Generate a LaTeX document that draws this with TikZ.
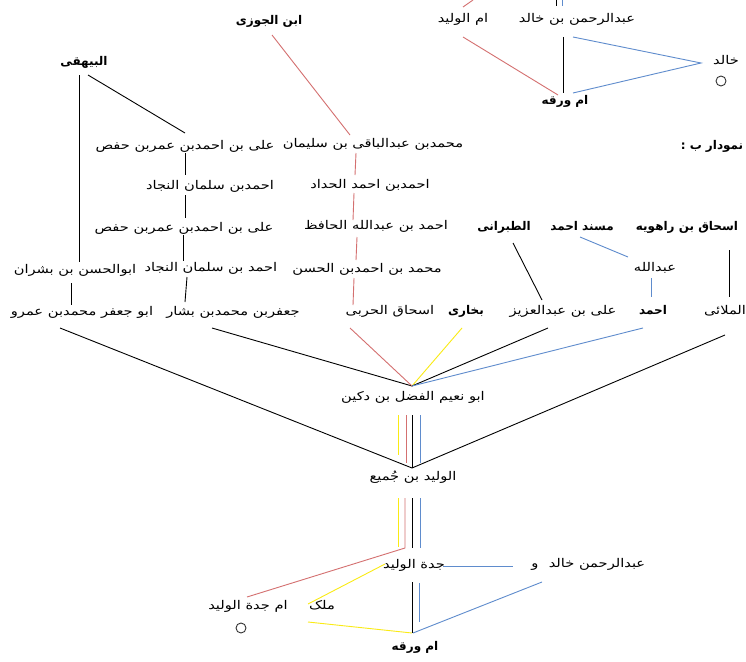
\documentclass[tikz,border=0pt]{standalone}
\usepackage{fontspec}
\TeXXeTstate=1
\newfontfamily\arabicfont[Script=Arabic,FakeStretch=1.22]{DejaVu Sans}
\newfontfamily\arabicboldfont[Script=Arabic,FakeStretch=1.0]{DejaVu Sans Bold}
\newcommand{\rtltext}[1]{\beginR #1\endR}
\usetikzlibrary{calc}
\definecolor{linkred}{RGB}{212,112,112}
\definecolor{linkblue}{RGB}{95,140,205}
\definecolor{linkyellow}{RGB}{250,235,20}
\tikzset{
  lbl/.style={font=\arabicfont\fontsize{12}{13}\selectfont, inner sep=0pt, text height=8pt, text depth=3pt, anchor=center},
  blbl/.style={lbl, font=\arabicboldfont\fontsize{12}{13}\selectfont},
  ringmark/.style={circle, draw=black!80, line width=0.9pt, minimum size=10pt, inner sep=0pt},
  kblack/.style={draw=black, line width=0.9pt},
  kred/.style={draw=linkred, line width=0.9pt},
  kblue/.style={draw=linkblue, line width=0.9pt},
  kyellow/.style={draw=linkyellow, line width=0.9pt},
}
\begin{document}
\begin{tikzpicture}[x=1pt,y=-1pt]
\useasboundingbox[fill=white] (0,0) rectangle (746,661);

% ---------- top part ----------
\node[blbl] (jawzi) at (269,22) {\rtltext{ابن الجوزی}};
\node[lbl] (umwalid) at (463,20) {\rtltext{ام الولید}};
\node[lbl] (abdkh) at (577,20) {\rtltext{عبدالرحمن بن خالد}};
\node[lbl] (khalid) at (726,62) {\rtltext{خالد}};
\node[ringmark] (ring1) at (721,81) {};
\node[blbl] (umw1) at (565,102) {\rtltext{ام ورقه}};
\node[blbl] (bayhaqi) at (84,63) {\rtltext{البیهقی}};
\node[blbl] (tag) at (712,147) {\rtltext{نمودار ب :}};
\coordinate (topred) at (473,0);
\coordinate (topblack) at (556,0);
\coordinate (topblue) at (562,0);

% ---------- chains ----------
\node[lbl] (r1a) at (185,147) {\rtltext{على بن احمدبن عمربن حفص}};
\node[lbl] (r1b) at (373,145) {\rtltext{محمدبن عبدالباقی بن سلیمان}};
\node[lbl] (r2a) at (210,187) {\rtltext{احمدبن سلمان النجاد}};
\node[lbl] (r2b) at (370,186) {\rtltext{احمدبن احمد الحداد}};
\node[lbl] (r3a) at (184,229) {\rtltext{على بن احمدبن عمربن حفص}};
\node[lbl] (r3b) at (376,227) {\rtltext{احمد بن عبدالله الحافظ}};
\node[lbl] (r4a) at (75,271) {\rtltext{ابوالحسن بن بشران}};
\node[lbl] (r4b) at (211,269) {\rtltext{احمد بن سلمان النجاد}};
\node[lbl] (r4c) at (367,270) {\rtltext{محمد بن احمدبن الحسن}};
\node[lbl] (r5a) at (82,313) {\rtltext{ابو جعفر محمدبن عمرو}};
\node[lbl] (r5b) at (233,313) {\rtltext{جعفربن محمدبن بشار}};
\node[lbl] (r5c) at (390,312) {\rtltext{اسحاق الحربی}};
\node[blbl] (r5d) at (466,312) {\rtltext{بخاری}};
\node[lbl] (r5e) at (563,312) {\rtltext{على بن عبدالعزیز}};
\node[blbl] (r5f) at (653,312) {\rtltext{احمد}};
\node[lbl] (r5g) at (725,312) {\rtltext{الملائی}};
\node[blbl] (t1) at (504,228) {\rtltext{الطبرانی}};
\node[blbl] (t2) at (582,228) {\rtltext{مسند احمد}};
\node[blbl] (t3) at (687,228) {\rtltext{اسحاق بن راهویه}};
\node[lbl] (abd) at (655,269) {\rtltext{عبدالله}};

\node[lbl] (naim) at (413,398) {\rtltext{ابو نعیم الفضل بن دکین}};
\node[lbl] (walid) at (413,478) {\rtltext{الولید بن جُمیع}};

% ---------- bottom part ----------
\node[lbl] (jadda) at (414,566) {\rtltext{جدة الولید}};
\node[lbl] (waw) at (535,565) {\rtltext{و}};
\node[lbl] (abdkh2) at (597,565) {\rtltext{عبدالرحمن خالد}};
\node[lbl] (malik) at (322,607) {\rtltext{ملک}};
\node[lbl] (ummjadda) at (248,607) {\rtltext{ام جدة الولید}};
\node[ringmark] (ring2) at (241,628) {};
\node[blbl] (umw2) at (415,648) {\rtltext{ام ورقه}};

% ---------- connectors: top ----------
\draw[kred] ([shift={(3,13)}]jawzi.center) -- ([shift={(-23,-10)}]r1b.center);
\draw[kred] ([shift={(0,-13)}]umwalid.center) -- (topred);
\draw[kblack] ([shift={(-21,-14)}]abdkh.center) -- (topblack);
\draw[kblue] ([shift={(-15,-14)}]abdkh.center) -- (topblue);
\draw[kred] ([shift={(0,17)}]umwalid.center) -- ([shift={(-7,-7)}]umw1.center);
\draw[kblack] ([shift={(-14,17)}]abdkh.center) -- ([shift={(-2,-9)}]umw1.center);
\draw[kblue] ([shift={(-4,17)}]abdkh.center) -- ([shift={(-25,1)}]khalid.center) -- ([shift={(8,-9)}]umw1.center);

% Bayhaqi
\draw[kblack] ([shift={(-5,12)}]bayhaqi.center) -- ([shift={(4,-9)}]r4a.center);
\draw[kblack] ([shift={(4,12)}]bayhaqi.center) -- ([shift={(0,-14)}]r1a.center);

% left chain
\draw[kblack] ([shift={(0,6)}]r1a.center) -- ([shift={(-25,-12)}]r2a.center);
\draw[kblack] ([shift={(-25,8)}]r2a.center) -- ([shift={(1,-11)}]r3a.center);
\draw[kblack] ([shift={(-1,6)}]r3a.center) -- ([shift={(-28,-8)}]r4b.center);
\draw[kblack] ([shift={(-24,8)}]r4b.center) -- ([shift={(-48,-11)}]r5b.center);
\draw[kblack] ([shift={(-4,12)}]r4a.center) -- ([shift={(-11,-8)}]r5a.center);

% red chain
\draw[kred] ([shift={(-17,8)}]r1b.center) -- ([shift={(-15,-11)}]r2b.center);
\draw[kred] ([shift={(-16,7)}]r2b.center) -- ([shift={(-23,-7)}]r3b.center);
\draw[kred] ([shift={(-19,10)}]r3b.center) -- ([shift={(-11,-10)}]r4c.center);
\draw[kred] ([shift={(-13,8)}]r4c.center) -- ([shift={(-37,-7)}]r5c.center);

% right side
\draw[kblack] ([shift={(9,15)}]t1.center) -- ([shift={(-21,-12)}]r5e.center);
\draw[kblue] ([shift={(-2,9)}]t2.center) -- ([shift={(-27,-12)}]abd.center);
\draw[kblue] ([shift={(-4,9)}]abd.center) -- ([shift={(-2,-15)}]r5f.center);
\draw[kblack] ([shift={(42,22)}]t3.center) -- ([shift={(4,-15)}]r5g.center);

% into Abu Nuaym
\draw[kblack] ([shift={(-21,15)}]r5b.center) -- ([shift={(-1,-12)}]naim.center);
\draw[kred] ([shift={(-40,16)}]r5c.center) -- ([shift={(-1,-12)}]naim.center);
\draw[kyellow] ([shift={(-4,16)}]r5d.center) -- ([shift={(-1,-12)}]naim.center);
\draw[kblack] ([shift={(-15,16)}]r5e.center) -- ([shift={(-1,-12)}]naim.center);
\draw[kblue] ([shift={(-10,16)}]r5f.center) -- ([shift={(-1,-12)}]naim.center);

% into al-Walid
\draw[kblack] ([shift={(-22,15)}]r5a.center) -- ([shift={(-1,-10)}]walid.center);
\draw[kblack] ([shift={(0,23)}]r5g.center) -- ([shift={(-1,-10)}]walid.center);
\draw[kyellow] ([shift={(-15,17)}]naim.center) -- ([shift={(-15,-23)}]walid.center);
\draw[kred] ([shift={(-7,17)}]naim.center) -- ([shift={(-7,-15)}]walid.center);
\draw[kblack] ([shift={(-1,17)}]naim.center) -- ([shift={(-1,-10)}]walid.center);
\draw[kblue] ([shift={(7,17)}]naim.center) -- ([shift={(7,-15)}]walid.center);

% below al-Walid
\draw[kyellow] ([shift={(-15,20)}]walid.center) -- ([shift={(-16,-19)}]jadda.center);
\draw[kyellow] ([shift={(-29,-2)}]jadda.center) -- ([shift={(-14,-3)}]malik.center);
\draw[kyellow] ([shift={(-14,15)}]malik.center) -- ([shift={(-3,-15)}]umw2.center);
\draw[kred] ([shift={(-8,20)}]walid.center) -- ([shift={(-9,-18)}]jadda.center) -- ([shift={(-1,-10)}]ummjadda.center);
\draw[kblack] ([shift={(-1,20)}]walid.center) -- ([shift={(-2,-18)}]jadda.center);
\draw[kblue] ([shift={(7,20)}]walid.center) -- ([shift={(6,-18)}]jadda.center);
\draw[kblack] ([shift={(-2,16)}]jadda.center) -- ([shift={(-3,-15)}]umw2.center);
\draw[kblue] ([shift={(5,17)}]jadda.center) -- ([shift={(4,-26)}]umw2.center);
\draw[kblue] ([shift={(29,0)}]jadda.center) -- ([shift={(-22,1)}]waw.center);
\draw[kblue] ([shift={(-55,17)}]abdkh2.center) -- ([shift={(-2,-15)}]umw2.center);
\end{tikzpicture}
\end{document}
